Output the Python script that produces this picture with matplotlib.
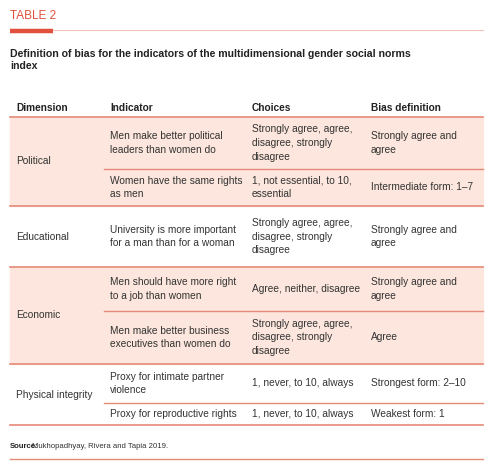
import matplotlib
matplotlib.use("Agg")
import matplotlib.pyplot as plt
from matplotlib.patches import Rectangle

plt.rcParams['font.family'] = ['Liberation Sans', 'DejaVu Sans']

# table content
headers = ["Dimension", "Indicator", "Choices", "Bias definition"]
dimensions = ["Political", "Educational", "Economic", "Physical integrity"]
indicators = [
    ["Men make better political\nleaders than women do", "Women have the same rights\nas men"],
    ["University is more important\nfor a man than for a woman"],
    ["Men should have more right\nto a job than women", "Men make better business\nexecutives than women do"],
    ["Proxy for intimate partner\nviolence", "Proxy for reproductive rights"],
]
choices = [
    ["Strongly agree, agree,\ndisagree, strongly\ndisagree", "1, not essential, to 10,\nessential"],
    ["Strongly agree, agree,\ndisagree, strongly\ndisagree"],
    ["Agree, neither, disagree", "Strongly agree, agree,\ndisagree, strongly\ndisagree"],
    ["1, never, to 10, always", "1, never, to 10, always"],
]
bias = [
    ["Strongly agree and\nagree", "Intermediate form: 1\u20137"],
    ["Strongly agree and\nagree"],
    ["Strongly agree and\nagree", "Agree"],
    ["Strongest form: 2\u201310", "Weakest form: 1"],
]
shaded = [True, False, True, False]

# layout (pixels)
row_edges = [[117, 169, 206], [206, 267], [267, 311, 364], [364, 403, 425]]
col_x = [16, 110, 252, 371]
left, right = 10, 483
red = "#e0503c"
line_c = "#e48a78"
fill_c = "#fce6dd"
fs = 7.3

fig = plt.figure(figsize=(4.95, 4.68), dpi=100)
ax = fig.add_axes([0, 0, 1, 1])
ax.set_xlim(0, 495)
ax.set_ylim(468, 0)
ax.axis("off")

ax.text(left, 16, "TABLE 2", color=red, fontsize=8.5, va="center")
ax.plot([left, 53], [31, 31], color=red, lw=3.2, solid_capstyle="butt")
ax.plot([53, right], [30, 30], color="#f2c3b6", lw=0.8)
ax.text(left, 60, "Definition of bias for the indicators of the multidimensional gender social norms\nindex",
        fontsize=7.6, fontweight="bold", va="center", linespacing=1.35, color="#222222")

for x, h in zip(col_x, headers):
    ax.text(x, 108, h, fontsize=fs, fontweight="bold", va="center", color="#222222")
ax.plot([left, right], [117, 117], color=line_c, lw=1.2)

for i, dim in enumerate(dimensions):
    edges = row_edges[i]
    top, bot = edges[0], edges[-1]
    if shaded[i]:
        ax.add_patch(Rectangle((left, top), right - left, bot - top, color=fill_c, zorder=0))
    ax.text(col_x[0], (top + bot) / 2, dim, fontsize=fs, va="center", color="#333333")
    for j in range(len(indicators[i])):
        yc = (edges[j] + edges[j + 1]) / 2
        for x, txt in zip(col_x[1:], [indicators[i][j], choices[i][j], bias[i][j]]):
            ax.text(x, yc, txt, fontsize=fs, va="center", linespacing=1.45, color="#333333")
        if j + 1 < len(edges) - 1:
            ax.plot([104, right], [edges[j + 1]] * 2, color=line_c, lw=1.0)
    ax.plot([left, right], [bot, bot], color=line_c, lw=1.2)

ax.text(left, 446, "Source:", fontsize=5.6, fontweight="bold", va="center", color="#222222")
ax.text(left + 22, 446, "Mukhopadhyay, Rivera and Tapia 2019.", fontsize=5.6, va="center", color="#333333")
ax.plot([left, right], [459, 459], color=line_c, lw=1.0)

fig.savefig("out.png", dpi=100)
